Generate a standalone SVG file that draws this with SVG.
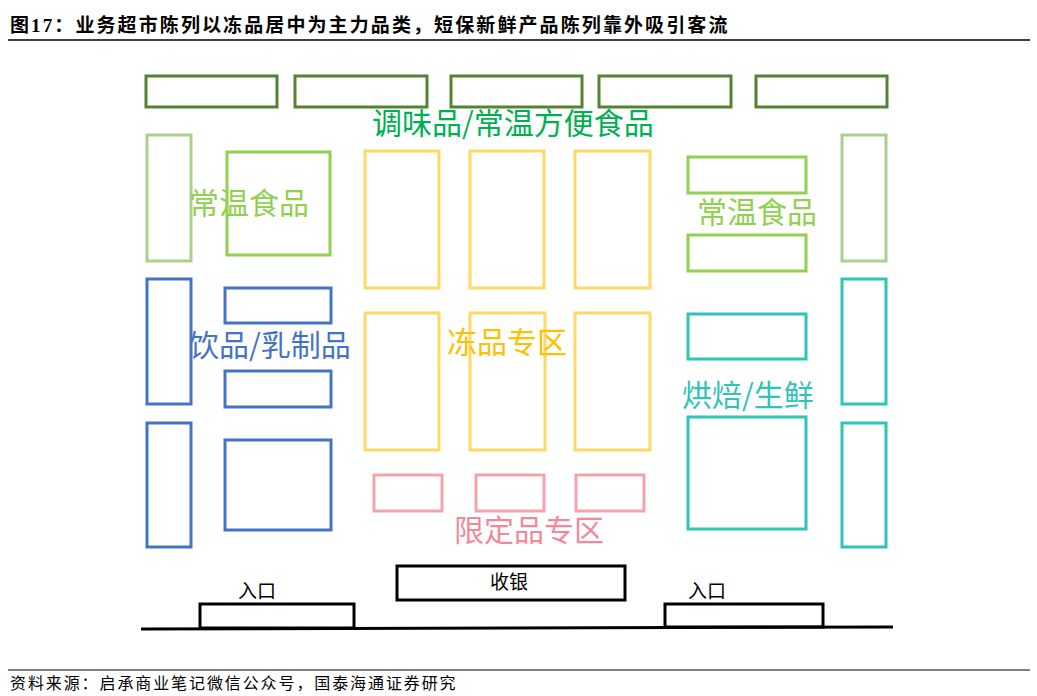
<svg xmlns="http://www.w3.org/2000/svg" width="1037" height="696" viewBox="0 0 1037 696">
<style>
.t{font-family:"Liberation Serif","Noto Sans CJK SC",serif;fill:#000}
.l{font-family:"Noto Sans CJK SC","Noto Sans",sans-serif;font-size:30px;text-anchor:middle}
.s{font-size:19px}
rect{fill:none;stroke-width:3}
.dg{stroke:#548235}.pg{stroke:#a9d18e}.g{stroke:#92d050}.b{stroke:#4472c4}.y{stroke:#ffd966}.c{stroke:#2ec4b6}.p{stroke:#f4a3ad}.k{stroke:#000}
</style>
<rect width="1037" height="696" fill="#fff" stroke="none"/>
<text class="t" x="10" y="32" font-size="19" font-weight="bold" letter-spacing="2.1">图17：业务超市陈列以冻品居中为主力品类，短保新鲜产品陈列靠外吸引客流</text>
<line x1="8" y1="40" x2="1030" y2="40" stroke="#000" stroke-width="1.5"/>
<g id="shelves">
<rect class="dg" x="146" y="76" width="131" height="31"/><rect class="dg" x="295" y="76" width="132" height="31"/><rect class="dg" x="451" y="76" width="131" height="31"/><rect class="dg" x="599" y="76" width="132" height="31"/><rect class="dg" x="756" y="76" width="131" height="31"/>
<rect class="pg" x="147" y="135" width="44" height="126"/><rect class="pg" x="842" y="135" width="44" height="126"/>
<rect class="g" x="227" y="152" width="103" height="103"/><rect class="g" x="688" y="157" width="118" height="36"/><rect class="g" x="688" y="235" width="118" height="36"/>
<rect class="y" x="365" y="151" width="74" height="137"/><rect class="y" x="470" y="151" width="74" height="137"/><rect class="y" x="575" y="151" width="75" height="137"/>
<rect class="y" x="365" y="313" width="74" height="137"/><rect class="y" x="470" y="313" width="75" height="137"/><rect class="y" x="575" y="313" width="75" height="137"/>
<rect class="b" x="147" y="279" width="44" height="125"/><rect class="b" x="147" y="423" width="44" height="124"/>
<rect class="b" x="225" y="288" width="106" height="35"/><rect class="b" x="225" y="371" width="106" height="36"/><rect class="b" x="225" y="440" width="106" height="90"/>
<rect class="c" x="842" y="279" width="44" height="125"/><rect class="c" x="842" y="423" width="44" height="124"/>
<rect class="c" x="688" y="314" width="118" height="45"/><rect class="c" x="688" y="417" width="118" height="112"/>
<rect class="p" x="374" y="475" width="68" height="36"/><rect class="p" x="476" y="475" width="68" height="36"/><rect class="p" x="576" y="475" width="68" height="36"/>
<rect class="k" x="397" y="566" width="228" height="34"/>
<rect class="k" x="200" y="604" width="154" height="24"/><rect class="k" x="665" y="604" width="158" height="23"/>
<line x1="141" y1="629" x2="893" y2="627" stroke="#000" stroke-width="3"/>
</g>
<g id="labels">
<text class="l" x="513" y="134" fill="#00b050">调味品/常温方便食品</text>
<text class="l" x="249" y="214" fill="#92d050">常温食品</text>
<text class="l" x="757" y="223" fill="#92d050">常温食品</text>
<text class="l" x="507" y="353" fill="#ffc000">冻品专区</text>
<text class="l" x="270" y="356" fill="#4472c4">饮品/乳制品</text>
<text class="l" x="748" y="406" fill="#2ec4b6">烘焙/生鲜</text>
<text class="l" x="529" y="541" fill="#f4879a">限定品专区</text>
<text class="l s" x="509" y="589" fill="#000">收银</text>
<text class="l s" x="257" y="598" fill="#000">入口</text>
<text class="l s" x="707" y="598" fill="#000">入口</text>
</g>
<line x1="8" y1="670" x2="1030" y2="670" stroke="#000" stroke-width="1"/>
<text class="t" x="10" y="689" font-size="16" letter-spacing="1.9">资料来源：启承商业笔记微信公众号，国泰海通证券研究</text>
</svg>
